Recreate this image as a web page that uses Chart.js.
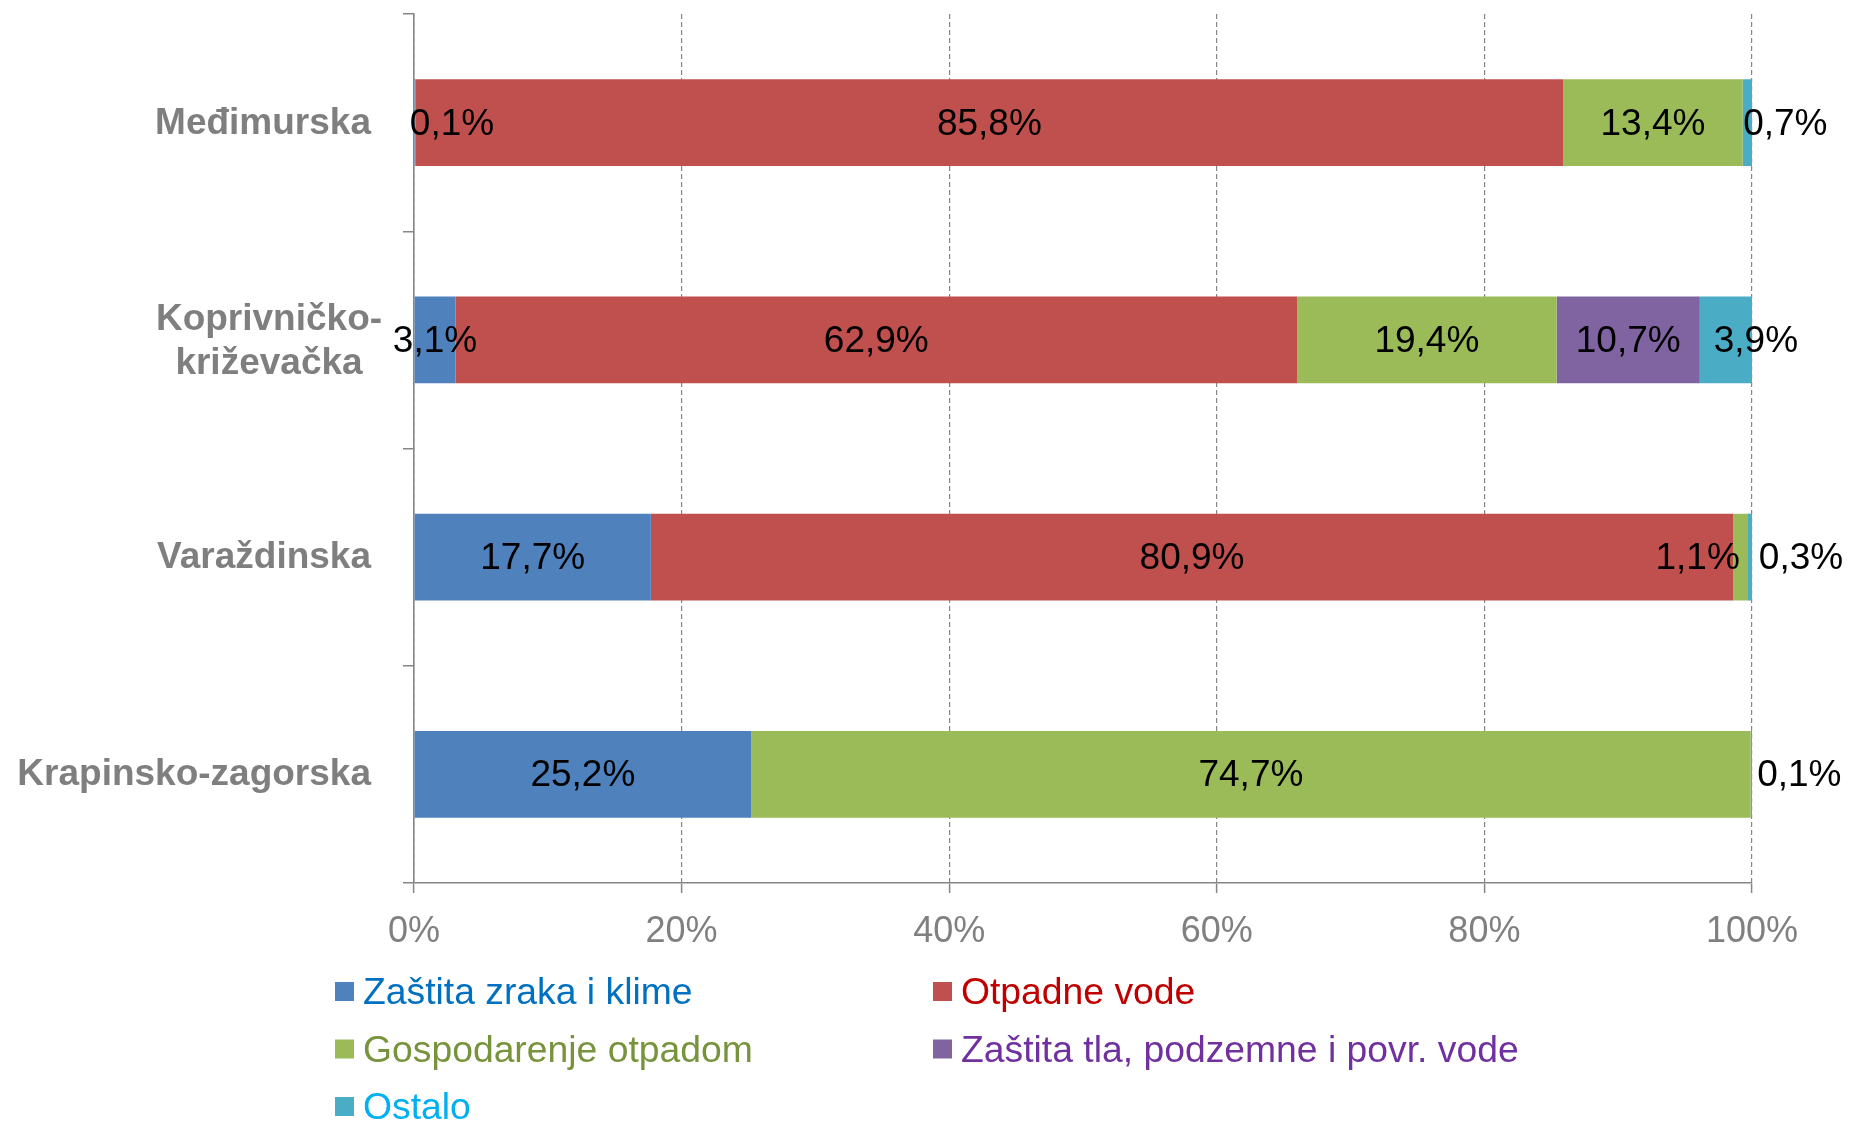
<!DOCTYPE html>
<html>
<head>
<meta charset="utf-8">
<script src="https://cdn.jsdelivr.net/npm/chart.js@4/dist/chart.umd.min.js"></script>
<style>
  html, body { margin: 0; padding: 0; background: #fff; }
  #chart-area { width: 1865px; height: 1132px; }
</style>
</head>
<body>
<div id="chart-area"><canvas id="c" width="1865" height="1132"></canvas></div>
<script>
const zupanije = ['Međimurska', ['Koprivničko-', 'križevačka'], 'Varaždinska', 'Krapinsko-zagorska'];

const zrakIKlima = [0.1, 3.1, 17.7, 25.2];
const otpadneVode = [85.8, 62.9, 80.9, 0];
const gospodarenjeOtpadom = [13.4, 19.4, 1.1, 74.7];
const tloIVode = [0, 10.7, 0, 0];
const ostalo = [0.7, 3.9, 0.3, 0.1];

const xTicks = [0, 20, 40, 60, 80, 100];

const FONT = '"Liberation Sans", Arial, sans-serif';
const GREY = '#868686';

const series = [
  { label: 'Zaštita zraka i klime', data: zrakIKlima, color: '#4F81BD', text: '#0070C0' },
  { label: 'Otpadne vode', data: otpadneVode, color: '#C0504D', text: '#C00000' },
  { label: 'Gospodarenje otpadom', data: gospodarenjeOtpadom, color: '#9BBB59', text: '#77933C' },
  { label: 'Zaštita tla, podzemne i povr. vode', data: tloIVode, color: '#8064A2', text: '#7030A0' },
  { label: 'Ostalo', data: ostalo, color: '#4BACC6', text: '#00B0F0' }
];

// small labels that would not fit inside their segment are pushed aside
const labelShift = {
  '0:0': 37, '0:4': 38,
  '1:4': 30,
  '2:2': -43, '2:4': 51,
  '3:4': 48
};

const fmt = v => v.toFixed(1).replace('.', ',') + '%';

const valueLabels = {
  id: 'valueLabels',
  afterDatasetsDraw(chart) {
    const ctx = chart.ctx;
    ctx.save();
    ctx.font = '37px ' + FONT;
    ctx.fillStyle = '#000';
    ctx.textAlign = 'center';
    ctx.textBaseline = 'alphabetic';
    chart.data.datasets.forEach((ds, d) => {
      chart.getDatasetMeta(d).data.forEach((bar, i) => {
        const v = ds.data[i];
        if (!v) return;
        const cx = (bar.x + bar.base) / 2 + (labelShift[i + ':' + d] || 0);
        ctx.fillText(fmt(v), cx, bar.y + 12);
      });
    });
    ctx.restore();
  }
};

const categoryLabels = {
  id: 'categoryLabels',
  afterDraw(chart) {
    const ctx = chart.ctx;
    const y = chart.scales.y;
    ctx.save();
    ctx.font = 'bold 37px ' + FONT;
    ctx.fillStyle = '#7F7F7F';
    ctx.textBaseline = 'alphabetic';
    chart.data.labels.forEach((lab, i) => {
      const cy = y.getPixelForTick(i);
      if (Array.isArray(lab)) {
        ctx.textAlign = 'center';
        lab.forEach((line, k) => {
          ctx.fillText(line, 269, cy + 12 + (k - (lab.length - 1) / 2) * 44);
        });
      } else {
        ctx.textAlign = 'right';
        ctx.fillText(lab, 371, cy + 11);
      }
    });
    ctx.restore();
  }
};

const bottomLegend = {
  id: 'bottomLegend',
  afterDraw(chart) {
    const ctx = chart.ctx;
    const colX = [335, 933];
    ctx.save();
    ctx.font = '37.3px ' + FONT;
    ctx.textAlign = 'left';
    ctx.textBaseline = 'alphabetic';
    series.forEach((s, i) => {
      const x = colX[i % 2];
      const base = 1004 + Math.floor(i / 2) * 57.5;
      ctx.fillStyle = s.color;
      ctx.fillRect(x, base - 22, 19, 19);
      ctx.fillStyle = s.text;
      ctx.fillText(s.label, x + 28, base);
    });
    ctx.restore();
  }
};

new Chart(document.getElementById('c'), {
  type: 'bar',
  data: {
    labels: zupanije,
    datasets: series.map(s => ({
      label: s.label,
      data: s.data,
      backgroundColor: s.color,
      borderWidth: 0,
      categoryPercentage: 1,
      barPercentage: 0.4
    }))
  },
  options: {
    indexAxis: 'y',
    responsive: false,
    animation: false,
    layout: { padding: { top: 14, right: 113, left: 0, bottom: 0 } },
    plugins: { legend: { display: false }, tooltip: { enabled: false } },
    scales: {
      x: {
        stacked: true,
        min: 0,
        max: 100,
        afterBuildTicks: scale => { scale.ticks = xTicks.map(v => ({ value: v })); },
        afterFit: scale => { scale.height = 249; },
        ticks: {
          color: '#808080',
          font: { family: FONT, size: 36 },
          padding: 17,
          maxRotation: 0,
          callback: v => v + '%'
        },
        grid: { color: GREY, lineWidth: 1.2, tickLength: 10, tickColor: GREY, tickWidth: 1.5 },
        border: { display: true, color: GREY, width: 1.6, dash: [5, 3] }
      },
      y: {
        stacked: true,
        afterFit: scale => { scale.width = 414; },
        ticks: { display: false },
        grid: { drawOnChartArea: false, color: GREY, lineWidth: 1.5, tickLength: 11, offset: true },
        border: { display: true, color: GREY, width: 1.6 }
      }
    }
  },
  plugins: [valueLabels, categoryLabels, bottomLegend]
});
</script>
</body>
</html>
